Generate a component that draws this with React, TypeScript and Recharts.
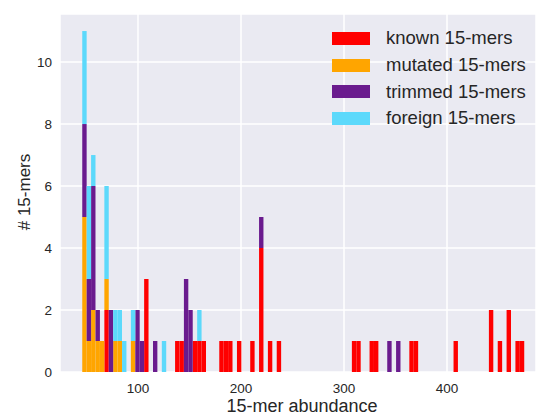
import { Bar, BarChart, CartesianGrid, Label, XAxis, YAxis } from "recharts";

// histogram bins: 100 bins between the smallest and largest abundance
const binStart = 45.9;
const binEnd = 475.0;
const binCount = 100;

// counts per bin
const known = [
  0, 0, 0, 0, 0, 2, 0, 0, 0, 0, 0, 0, 0, 0, 3, 0, 0, 0, 0, 0,
  0, 1, 1, 0, 0, 1, 1, 1, 0, 0, 0, 1, 1, 1, 0, 1, 0, 0, 1, 0,
  4, 0, 1, 0, 1, 0, 0, 0, 0, 0, 0, 0, 0, 0, 0, 0, 0, 0, 0, 0,
  0, 1, 1, 0, 0, 1, 1, 0, 0, 0, 0, 0, 0, 0, 1, 1, 0, 0, 0, 0,
  0, 0, 0, 0, 1, 0, 0, 0, 0, 0, 0, 0, 2, 0, 1, 0, 2, 0, 1, 1,
];
const mutated = [
  5, 1, 2, 1, 1, 1, 0, 1, 1, 0, 0, 1, 0, 0, 0, 0, 0, 0, 0, 0,
  0, 0, 0, 0, 0, 0, 0, 0, 0, 0, 0, 0, 0, 0, 0, 0, 0, 0, 0, 0,
  0, 0, 0, 0, 0, 0, 0, 0, 0, 0, 0, 0, 0, 0, 0, 0, 0, 0, 0, 0,
  0, 0, 0, 0, 0, 0, 0, 0, 0, 0, 0, 0, 0, 0, 0, 0, 0, 0, 0, 0,
  0, 0, 0, 0, 0, 0, 0, 0, 0, 0, 0, 0, 0, 0, 0, 0, 0, 0, 0, 0,
];
const trimmed = [
  3, 2, 4, 1, 0, 0, 2, 0, 0, 0, 0, 0, 2, 1, 0, 0, 1, 0, 0, 0,
  0, 0, 0, 3, 2, 0, 0, 0, 0, 0, 0, 0, 0, 0, 0, 0, 0, 0, 0, 0,
  1, 0, 0, 0, 0, 0, 0, 0, 0, 0, 0, 0, 0, 0, 0, 0, 0, 0, 0, 0,
  0, 0, 0, 0, 0, 0, 0, 0, 0, 1, 0, 1, 0, 0, 0, 0, 0, 0, 0, 0,
  0, 0, 0, 0, 0, 0, 0, 0, 0, 0, 0, 0, 0, 0, 0, 0, 0, 0, 0, 0,
];
const foreign = [
  3, 3, 1, 0, 0, 3, 0, 1, 1, 1, 0, 1, 0, 0, 0, 0, 0, 0, 1, 0,
  0, 0, 0, 0, 0, 0, 1, 0, 0, 0, 0, 0, 0, 0, 0, 0, 0, 0, 0, 0,
  0, 0, 0, 0, 0, 0, 0, 0, 0, 0, 0, 0, 0, 0, 0, 0, 0, 0, 0, 0,
  0, 0, 0, 0, 0, 0, 0, 0, 0, 0, 0, 0, 0, 0, 0, 0, 0, 0, 0, 0,
  0, 0, 0, 0, 0, 0, 0, 0, 0, 0, 0, 0, 0, 0, 0, 0, 0, 0, 0, 0,
];

const xTicks = [100, 200, 300, 400];
const yTicks = [0, 2, 4, 6, 8, 10];

const series = [
  { key: "known", label: "known 15-mers", color: "#ff0000" },
  { key: "mutated", label: "mutated 15-mers", color: "#ffa500" },
  { key: "trimmed", label: "trimmed 15-mers", color: "#6a1b8e" },
  { key: "foreign", label: "foreign 15-mers", color: "#5cd9fb" },
];

const xDomain = [24.3, 486.4];
const plotLeft = 60;
const chartWidth = 536;

const binWidth = (binEnd - binStart) / binCount;
const data = known.map((k, i) => ({
  x: binStart + (i + 0.5) * binWidth,
  known: k,
  mutated: mutated[i],
  trimmed: trimmed[i],
  foreign: foreign[i],
}));

// recharts truncates auto bar widths to whole pixels, so pass the bin width
// just under the band size to keep the bars touching
const barPx = (binWidth * (chartWidth - plotLeft)) / (xDomain[1] - xDomain[0]) - 0.02;

const font = "'Liberation Sans', Arial, sans-serif";
const textColor = "#262626";

export default function App() {
  return (
    <div style={{ position: "absolute", left: 0, top: 0, width: chartWidth, height: 416, fontFamily: font }}>
      <BarChart
        width={chartWidth}
        height={416}
        data={data}
        margin={{ top: 14, right: 0, bottom: 0, left: 0 }}
        barCategoryGap={0}
        barGap={0}
        barSize={barPx}
      >
        <CartesianGrid fill="#eaeaf2" stroke="#ffffff" strokeWidth={1.5} />
        <XAxis
          dataKey="x"
          type="number"
          domain={xDomain}
          ticks={xTicks}
          allowDataOverflow
          axisLine={false}
          tickLine={false}
          tickMargin={5}
          height={44}
          tick={{ fontSize: 13.5, fill: textColor, fontFamily: font }}
        >
          <Label
            content={() => (
              <text x={302} y={412} textAnchor="middle" fontSize={18} fill={textColor} fontFamily={font}>
                15-mer abundance
              </text>
            )}
          />
        </XAxis>
        <YAxis
          type="number"
          domain={[0, 11.55]}
          ticks={yTicks}
          allowDataOverflow
          axisLine={false}
          tickLine={false}
          width={plotLeft}
          tick={{ fontSize: 13.5, fill: textColor, fontFamily: font }}
        >
          <Label
            content={() => (
              <text
                x={24}
                y={192}
                transform="rotate(-90 24 192)"
                textAnchor="middle"
                dominantBaseline="central"
                fontSize={17}
                fill={textColor}
                fontFamily={font}
              >
                # 15-mers
              </text>
            )}
          />
        </YAxis>
        {series.map((s) => (
          <Bar key={s.key} dataKey={s.key} stackId="a" fill={s.color} isAnimationActive={false} />
        ))}
      </BarChart>
      <div style={{ position: "absolute", left: 332, top: 25 }}>
        {series.map((s) => (
          <div key={s.key} style={{ display: "flex", alignItems: "center", height: 26.7 }}>
            <div style={{ width: 38, height: 13, background: s.color }} />
            <span style={{ marginLeft: 16, fontSize: 18.5, color: textColor, lineHeight: "20px" }}>{s.label}</span>
          </div>
        ))}
      </div>
    </div>
  );
}
